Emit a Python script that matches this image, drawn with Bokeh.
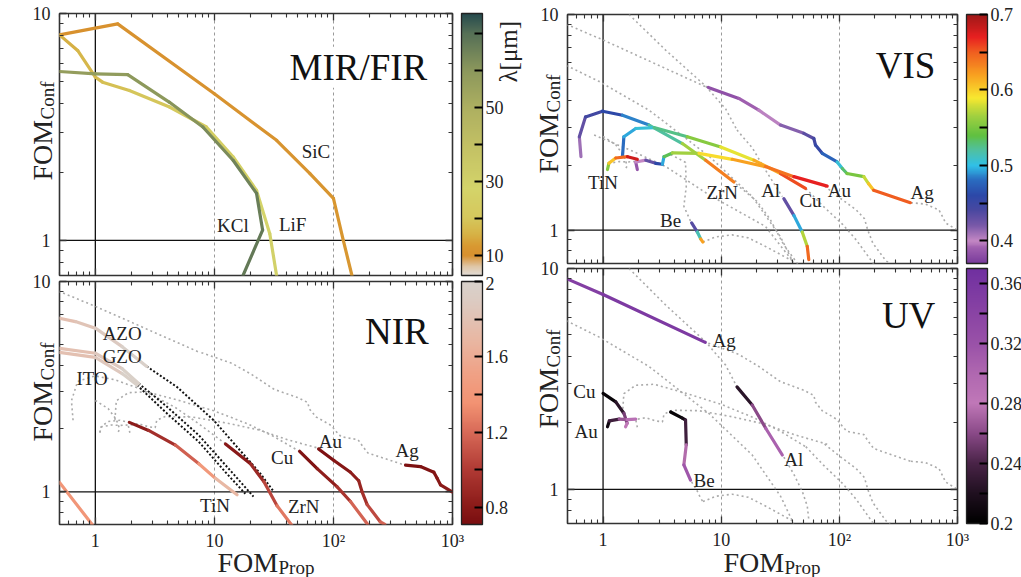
import numpy as np
from math import pi
from bokeh.plotting import figure
from bokeh.models import (ColumnDataSource, LinearColorMapper, ColorBar, FixedTicker, GridBox,
                          LogAxis, Span, Label, CustomJSTickFormatter, PrintfTickFormatter)
from bokeh.layouts import row, column
from bokeh.embed import file_html
from bokeh.resources import INLINE

FONT = "Liberation Serif, DejaVu Serif, serif"
TXT = "#222222"

# ---------------- axes ----------------
x_lo, x_hi = 0.5, 1000
y_lo, y_hi = 0.7, 10
x_major = [1, 10, 100, 1000]
x_minor = [0.5, 0.6, 0.7, 0.8, 0.9, 2, 3, 4, 5, 6, 7, 8, 9,
           20, 30, 40, 50, 60, 70, 80, 90, 200, 300, 400, 500, 600, 700, 800, 900]
y_major = [1, 10]
y_minor = [0.7, 0.8, 0.9, 2, 3, 4, 5, 6, 7, 8, 9]

# ---------------- MIR / FIR ----------------
sic_x = [0.5, 1.54, 10, 33.3, 63.5, 100, 121, 143]
sic_y = [8.05, 9.0, 4.43, 2.76, 1.97, 1.53, 1.0, 0.70]
sic_l = [10.3, 10.4, 10.6, 10.9, 11.2, 11.5, 11.8, 12.0]
lif_x = [0.5, 0.71, 1.0, 1.15, 1.93, 4.2, 8.57, 14.4, 22.6, 29.2, 33.3]
lif_y = [8.05, 6.87, 5.24, 4.98, 4.58, 3.87, 3.16, 2.33, 1.66, 1.07, 0.70]
lif_l = [15, 16, 17, 18, 19, 21, 23, 25, 27, 29, 30]
kcl_x = [0.5, 1.0, 1.87, 4.2, 8.0, 14.4, 22.6, 25.4, 17.4]
kcl_y = [5.55, 5.42, 5.38, 4.06, 3.16, 2.25, 1.61, 1.11, 0.70]
kcl_l = [57, 58, 59, 60, 62, 64, 66, 67, 68]

# ---------------- NIR ----------------
tin_n_x = [1.93, 2.8, 4.7, 7.4, 10.2, 15.5]
tin_n_y = [2.14, 1.96, 1.67, 1.36, 1.16, 0.97]
tin_n_l = [0.78, 0.85, 1.02, 1.3, 1.55, 1.85]
zrn_n_x = [12.4, 20.1, 26, 33.6, 45]
zrn_n_y = [1.69, 1.36, 1.12, 0.86, 0.69]
zrn_n_l = [0.75, 0.85, 0.95, 1.15, 1.35]
cu_n_x = [52, 73, 107, 139, 198]
cu_n_y = [1.56, 1.29, 1.06, 0.90, 0.69]
cu_n_l = [0.72, 0.78, 0.88, 1.05, 1.3]
au_n_x = [75, 101, 139, 163, 174, 192, 248, 270]
au_n_y = [1.6, 1.41, 1.24, 1.13, 1.0, 0.87, 0.72, 0.70]
au_n_l = [0.72, 0.76, 0.8, 0.85, 0.9, 0.98, 1.15, 1.2]
ag_n_x = [403, 538, 697, 743, 793, 994]
ag_n_y = [1.34, 1.32, 1.24, 1.16, 1.08, 1.0]
ag_n_l = [0.72, 0.74, 0.76, 0.78, 0.8, 0.82]
azo_x = [0.5, 0.68, 1.0, 1.68, 2.7]
azo_y = [6.69, 6.45, 6.0, 4.9, 3.95]
azo_l = [1.75, 1.8, 1.85, 1.93, 2.0]
azo_dx = [2.7, 4.86, 9.87, 16.5, 24.4, 31.6]
azo_dy = [3.95, 3.15, 2.19, 1.57, 1.22, 1.0]
gzo_x = [0.5, 1.0, 1.68, 2.31]
gzo_y = [4.81, 4.56, 3.85, 3.28]
gzo_l = [1.75, 1.82, 1.92, 2.0]
gzo_dx = [2.31, 3.87, 7.4, 12.4, 21.3]
gzo_dy = [3.28, 2.58, 1.86, 1.34, 0.95]
ito_x = [0.5, 1.0, 1.68, 2.24]
ito_y = [4.6, 4.36, 3.65, 3.22]
ito_l = [1.75, 1.82, 1.92, 2.0]
ito_dx = [2.24, 3.87, 7.4, 12.4, 18.2]
ito_dy = [3.22, 2.4, 1.73, 1.24, 0.98]
nir_low_x = [0.5, 0.94]
nir_low_y = [1.11, 0.70]
nir_low_l = [1.4, 1.4]

# ---------------- VIS ----------------
ag_v_x = [7.78, 14.1, 20.8, 31.8, 50, 60.8, 62.8, 71.6, 95.8, 106, 116, 161, 177, 195, 399]
ag_v_y = [4.59, 4.08, 3.6, 3.07, 2.81, 2.66, 2.48, 2.27, 2.07, 1.93, 1.83, 1.77, 1.64, 1.53, 1.34]
ag_v_l = [0.38, 0.385, 0.395, 0.41, 0.425, 0.44, 0.45, 0.46, 0.49, 0.52, 0.54, 0.56, 0.59, 0.62, 0.68]
au_v_x = [1.95, 1.89, 2.3, 2.79, 3.18, 3.28, 3.86, 6.48, 12.4, 23.7, 41.2, 78.9]
au_v_y = [1.91, 2.07, 2.11, 2.04, 2.02, 2.19, 2.28, 2.27, 2.13, 1.97, 1.77, 1.6]
au_v_l = [0.38, 0.39, 0.41, 0.45, 0.47, 0.52, 0.55, 0.58, 0.61, 0.63, 0.65, 0.69]
cu_v_x = [1.46, 1.5, 1.89, 2.7, 5.17, 9.9, 18.9, 31.8, 51.7]
cu_v_y = [2.2, 2.71, 2.96, 2.99, 2.71, 2.43, 2.11, 1.83, 1.56]
cu_v_l = [0.47, 0.49, 0.5, 0.51, 0.54, 0.57, 0.6, 0.63, 0.68]
zrn_v_x = [0.65, 0.63, 0.71, 0.99, 1.46, 2.45, 4.69, 7.38, 12.8]
zrn_v_y = [2.19, 2.71, 3.35, 3.56, 3.41, 3.07, 2.52, 2.11, 1.67]
zrn_v_l = [0.4, 0.42, 0.44, 0.45, 0.47, 0.5, 0.54, 0.59, 0.68]
tin_v_x = [1.09, 1.12, 1.28, 1.61, 1.95]
tin_v_y = [1.91, 2.04, 2.16, 2.19, 2.13]
tin_v_l = [0.53, 0.58, 0.63, 0.66, 0.7]
be_v_x = [5.62, 6.28, 6.7, 7.0]
be_v_y = [1.08, 0.98, 0.91, 0.88]
be_v_l = [0.4, 0.47, 0.56, 0.68]
al_v_x = [33.9, 41.2, 48.5, 53.5, 55.1]
al_v_y = [1.4, 1.17, 0.98, 0.84, 0.73]
al_v_l = [0.4, 0.46, 0.53, 0.61, 0.68]

# ---------------- UV ----------------
ag_u_x = [0.49, 1.0, 7.33]
ag_u_y = [9.0, 7.62, 4.63]
ag_u_l = [0.345, 0.35, 0.36]
al_u_x = [13.6, 18.3, 23.8, 32.9]
al_u_y = [2.91, 2.41, 1.89, 1.43]
al_u_l = [0.21, 0.24, 0.28, 0.33]
cu_u_x = [1.0, 1.28, 1.5, 1.6, 1.55]
cu_u_y = [2.72, 2.49, 2.21, 1.99, 1.92]
cu_u_l = [0.2, 0.21, 0.24, 0.27, 0.29]
au_u_x = [1.09, 1.13, 1.37, 1.6, 1.89]
au_u_y = [1.92, 2.04, 2.08, 2.07, 2.08]
au_u_l = [0.2, 0.22, 0.25, 0.28, 0.3]
be_u_x = [3.73, 4.69, 4.99, 5.06, 4.83, 5.5]
be_u_y = [2.24, 2.1, 2.06, 1.59, 1.29, 1.1]
be_u_l = [0.2, 0.21, 0.22, 0.25, 0.3, 0.33]

# ---------------- extra grey (out-of-band) curves ----------------
al_deep_x = [1.66, 3.4, 7.4, 10.9, 13.6]
al_deep_y = [10.0, 6.82, 4.65, 3.65, 2.91]
gx_x = [0.49, 0.92, 2.45, 7.9, 18.3, 31.8, 41]
gx_y = [5.8, 4.9, 3.6, 2.2, 1.43, 0.93, 0.7]
gy_x = [0.84, 1.7, 3.4, 8, 23.7, 40]
gy_y = [2.76, 2.35, 1.97, 1.45, 1.04, 0.72]
be_tail_x = [7.0, 9.0, 12.4, 17, 23.7, 40]
be_tail_y = [0.88, 0.93, 0.95, 0.92, 0.84, 0.72]

# ---------------- colour maps ----------------
mir_anchors = [(4.6, "#e2dcd6"), (7.0, "#dfc6a6"), (10, "#d8902e"), (12.5, "#d89a32"),
               (16, "#d6b448"), (20, "#d5c75c"), (28, "#d4d46a"), (40, "#c2c064"),
               (50, "#adaf60"), (60, "#8c985c"), (70, "#567056"), (75.4, "#264a4e")]
nir_anchors = [(0.71, "#7a0e10"), (0.8, "#8a1a18"), (1.0, "#b03a34"), (1.2, "#d86a58"),
               (1.35, "#f29272"), (1.5, "#f0a084"), (1.7, "#e8b8a4"), (1.9, "#dccbc2"), (2.0, "#d8d2cc")]
vis_anchors = [(0.37, "#7a3c9c"), (0.39, "#a060b0"), (0.40, "#c488c4"), (0.42, "#7858a8"),
               (0.44, "#4a48a0"), (0.46, "#2c48a8"), (0.48, "#2a6cc0"), (0.50, "#30c0e8"),
               (0.52, "#50c0a0"), (0.54, "#60c040"), (0.565, "#a0d040"), (0.59, "#f8e830"),
               (0.62, "#f8a020"), (0.65, "#f06020"), (0.67, "#e82020"), (0.70, "#a01818")]
uv_anchors = [(0.20, "#000000"), (0.22, "#201020"), (0.24, "#4a2448"), (0.26, "#8a4a88"),
              (0.28, "#c078b8"), (0.30, "#b068b0"), (0.32, "#9a52a8"), (0.34, "#8a44a4"),
              (0.37, "#7030a0")]


def make_palette(anchors, n=256):
    v = np.array([a[0] for a in anchors])
    c = np.array([[int(h[i:i + 2], 16) for i in (1, 3, 5)] for _, h in anchors], float)
    t = np.linspace(v[0], v[-1], n)
    rgb = np.stack([np.interp(t, v, c[:, k]) for k in range(3)], axis=1)
    return ["#%02x%02x%02x" % tuple(int(round(q)) for q in r) for r in rgb]


mir_map = LinearColorMapper(palette=make_palette(mir_anchors), low=4.6, high=75.4)
nir_map = LinearColorMapper(palette=make_palette(nir_anchors), low=0.71, high=2.0)
vis_map = LinearColorMapper(palette=make_palette(vis_anchors), low=0.37, high=0.70)
uv_map = LinearColorMapper(palette=make_palette(uv_anchors), low=0.20, high=0.37)


def xfmt():
    return CustomJSTickFormatter(code="const m={1:'1',10:'10',100:'10\u00b2',1000:'10\u00b3'}; return m[tick] || '';")


def yfmt():
    return CustomJSTickFormatter(code="const m={1:'1',10:'10'}; return m[tick] || '';")


def yfmt_low():
    # the top "10" of a lower panel is drawn on the overlay so it is not cut by the canvas edge
    return CustomJSTickFormatter(code="return tick == 1 ? '1' : '';")


def style_axis(ax, labels):
    ax.axis_line_color = None
    ax.major_tick_in = 7
    ax.major_tick_out = 0
    ax.minor_tick_in = 4
    ax.minor_tick_out = 0
    ax.major_tick_line_color = "#333333"
    ax.minor_tick_line_color = "#333333"
    ax.major_tick_line_width = 1.3
    ax.minor_tick_line_width = 1.1
    ax.major_label_text_font = FONT
    ax.major_label_text_color = TXT
    if labels:
        ax.major_label_text_font_size = "18px"
        ax.major_label_standoff = 6
    else:
        ax.major_label_text_font_size = "1px"
        ax.major_label_text_alpha = 0
        ax.major_label_standoff = 0


def make_panel(fw, fh, bl, br, bt, bb, xlabels, lower):
    p = figure(x_axis_type="log", y_axis_type="log", x_range=(x_lo, x_hi), y_range=(y_lo, y_hi),
               frame_width=fw, frame_height=fh, min_border_left=bl, min_border_right=br,
               min_border_top=bt, min_border_bottom=bb, toolbar_location=None,
               output_backend="svg", border_fill_color="white")
    p.outline_line_color = "#333333"
    p.outline_line_width = 1.6
    xa = p.xaxis[0]
    ya = p.yaxis[0]
    xa.ticker = FixedTicker(ticks=x_major, minor_ticks=x_minor)
    ya.ticker = FixedTicker(ticks=y_major, minor_ticks=y_minor)
    xa.formatter = xfmt()
    ya.formatter = yfmt_low() if lower else yfmt()
    style_axis(xa, xlabels)
    style_axis(ya, True)
    ya.major_label_standoff = 9
    top = LogAxis(ticker=FixedTicker(ticks=x_major, minor_ticks=x_minor))
    rgt = LogAxis(ticker=FixedTicker(ticks=y_major, minor_ticks=y_minor), formatter=yfmt())
    style_axis(top, False)
    style_axis(rgt, False)
    p.add_layout(top, "above")
    p.add_layout(rgt, "right")
    # invisible spacer axis: leaves the gap between the frame and the colour bar
    gap = LogAxis(ticker=FixedTicker(ticks=y_major), formatter=yfmt())
    gap.axis_line_color = None
    gap.major_tick_in = 0
    gap.major_tick_out = 9
    gap.minor_tick_in = 0
    gap.minor_tick_out = 0
    gap.major_tick_line_color = None
    gap.minor_tick_line_color = None
    gap.major_label_text_font_size = "1px"
    gap.major_label_text_alpha = 0
    gap.major_label_standoff = 0
    p.add_layout(gap, "right")
    p.xgrid.ticker = FixedTicker(ticks=[10, 100])
    p.xgrid.grid_line_color = "#9a9a9a"
    p.xgrid.grid_line_dash = "3 3"
    p.xgrid.grid_line_width = 1
    p.ygrid.grid_line_color = None
    p.add_layout(Span(location=1, dimension="height", line_color="#111111", line_width=1.3, level="underlay"))
    p.add_layout(Span(location=1, dimension="width", line_color="#111111", line_width=1.3, level="underlay"))
    return p


def add_curve(p, xs, ys, ls, mapper, width=3.2):
    lam = [(a + b) / 2 for a, b in zip(ls[:-1], ls[1:])]
    src = ColumnDataSource(dict(x0=xs[:-1], y0=ys[:-1], x1=xs[1:], y1=ys[1:], lam=lam))
    p.segment("x0", "y0", "x1", "y1", source=src,
              line_color={"field": "lam", "transform": mapper}, line_width=width, line_cap="round")


def add_grey(p, xs, ys):
    p.line(xs, ys, line_color="#ababab", line_dash="2 3", line_width=1.6)


def add_black_dots(p, xs, ys):
    p.line(xs, ys, line_color="#111111", line_dash="2 2", line_width=2)


def add_text(p, x, y, t, size="19px"):
    p.add_layout(Label(x=x, y=y, text=t, text_font=FONT, text_font_size=size, text_color=TXT,
                       text_align="center", text_baseline="middle"))


def add_title(p, x, y, t):
    p.add_layout(Label(x=x, y=y, text=t, text_font=FONT, text_font_size="37px", text_color="#111111",
                       text_align="right", text_baseline="alphabetic",
                       background_fill_color="white", background_fill_alpha=1.0))


def add_cbar(p, mapper, ticks, minor, fh, fmt=None):
    cb = ColorBar(color_mapper=mapper, ticker=FixedTicker(ticks=ticks, minor_ticks=minor),
                  formatter=fmt if fmt is not None else PrintfTickFormatter(format="%g"),
                  width=21, height=fh, padding=0, margin=0, label_standoff=3,
                  major_tick_in=8, major_tick_out=0, minor_tick_in=8, minor_tick_out=0,
                  major_tick_line_color="#000000", minor_tick_line_color="#000000",
                  major_tick_line_width=1.8, minor_tick_line_width=1.8,
                  bar_line_color="#222222", bar_line_width=1.3, border_line_color=None,
                  background_fill_alpha=0, major_label_text_font=FONT,
                  major_label_text_font_size="18px", major_label_text_color=TXT)
    p.add_layout(cb, "right")


# ---------------- panels ----------------
tl = make_panel(393, 262, 59, 68, 13, 3, False, False)
bl = make_panel(393, 243, 59, 68, 3, 53, True, True)
tr = make_panel(390, 249, 47, 64, 14, 2, False, False)
br = make_panel(390, 255, 47, 64, 3, 54, True, True)

# MIR/FIR
add_curve(tl, sic_x, sic_y, sic_l, mir_map)
add_curve(tl, lif_x, lif_y, lif_l, mir_map)
add_curve(tl, kcl_x, kcl_y, kcl_l, mir_map)
add_text(tl, 71.3, 2.47, "SiC")
add_text(tl, 14.3, 1.16, "KCl")
add_text(tl, 45.4, 1.18, "LiF")
add_title(tl, 614, 5.8, "MIR/FIR")
add_cbar(tl, mir_map, [10, 30, 50], [20, 40, 60, 70], 262)

# NIR
for gx_, gy_ in [(ag_u_x, ag_u_y), (ag_v_x, ag_v_y), (au_v_x, au_v_y), (cu_v_x, cu_v_y),
                 (zrn_v_x, zrn_v_y), (tin_v_x, tin_v_y), (cu_u_x, cu_u_y), (au_u_x, au_u_y)]:
    add_grey(bl, gx_, gy_)
add_black_dots(bl, azo_dx, azo_dy)
add_black_dots(bl, gzo_dx, gzo_dy)
add_black_dots(bl, ito_dx, ito_dy)
add_curve(bl, azo_x, azo_y, azo_l, nir_map)
add_curve(bl, gzo_x, gzo_y, gzo_l, nir_map)
add_curve(bl, ito_x, ito_y, ito_l, nir_map)
add_curve(bl, nir_low_x, nir_low_y, nir_low_l, nir_map)
add_curve(bl, tin_n_x, tin_n_y, tin_n_l, nir_map)
add_curve(bl, zrn_n_x, zrn_n_y, zrn_n_l, nir_map)
add_curve(bl, cu_n_x, cu_n_y, cu_n_l, nir_map)
add_curve(bl, au_n_x, au_n_y, au_n_l, nir_map)
add_curve(bl, ag_n_x, ag_n_y, ag_n_l, nir_map)
add_text(bl, 1.68, 5.67, "AZO")
add_text(bl, 1.68, 4.4, "GZO")
add_text(bl, 0.94, 3.46, "ITO")
add_text(bl, 10.1, 0.86, "TiN")
add_text(bl, 56.3, 0.85, "ZrN")
add_text(bl, 37, 1.45, "Cu")
add_text(bl, 94.4, 1.74, "Au")
add_text(bl, 416, 1.58, "Ag")
add_title(bl, 632, 5.78, "NIR")
add_cbar(bl, nir_map, [0.8, 1.2, 1.6, 2.0], [1.0, 1.4, 1.8], 243,
         CustomJSTickFormatter(code="return tick > 1.9 ? '' : (Math.round(tick * 10) / 10).toFixed(1);"))

# VIS
for gx_, gy_ in [(ag_u_x, ag_u_y), (al_deep_x, al_deep_y), (al_u_x, al_u_y), (gx_x, gx_y),
                 (cu_u_x, cu_u_y), (au_u_x, au_u_y), (be_u_x, be_u_y), (zrn_n_x, zrn_n_y),
                 (cu_n_x, cu_n_y), (au_n_x, au_n_y), (ag_n_x, ag_n_y), (be_tail_x, be_tail_y),
                 (gy_x, gy_y)]:
    add_grey(tr, gx_, gy_)
add_curve(tr, ag_v_x, ag_v_y, ag_v_l, vis_map)
add_curve(tr, zrn_v_x, zrn_v_y, zrn_v_l, vis_map)
add_curve(tr, cu_v_x, cu_v_y, cu_v_l, vis_map)
add_curve(tr, au_v_x, au_v_y, au_v_l, vis_map)
add_curve(tr, tin_v_x, tin_v_y, tin_v_l, vis_map)
add_curve(tr, be_v_x, be_v_y, be_v_l, vis_map)
add_curve(tr, al_v_x, al_v_y, al_v_l, vis_map)
add_text(tr, 1.0, 1.67, "TiN")
add_text(tr, 10.2, 1.49, "ZrN")
add_text(tr, 3.73, 1.11, "Be")
add_text(tr, 26.2, 1.52, "Al")
add_text(tr, 57, 1.37, "Cu")
add_text(tr, 100, 1.53, "Au")
add_text(tr, 501, 1.49, "Ag")
add_title(tr, 649, 5.82, "VIS")
add_cbar(tr, vis_map, [0.4, 0.5, 0.6, 0.7], [0.45, 0.55, 0.65], 249)

# UV
for gx_, gy_ in [(al_deep_x, al_deep_y), (gx_x, gx_y), (ag_v_x, ag_v_y), (au_v_x, au_v_y),
                 (cu_v_x, cu_v_y), (al_v_x, al_v_y), (be_v_x, be_v_y), (be_tail_x, be_tail_y),
                 (ag_n_x, ag_n_y), (au_n_x, au_n_y), (cu_n_x, cu_n_y)]:
    add_grey(br, gx_, gy_)
add_curve(br, ag_u_x, ag_u_y, ag_u_l, uv_map)
add_curve(br, al_u_x, al_u_y, al_u_l, uv_map)
add_curve(br, cu_u_x, cu_u_y, cu_u_l, uv_map)
add_curve(br, au_u_x, au_u_y, au_u_l, uv_map)
add_curve(br, be_u_x, be_u_y, be_u_l, uv_map)
add_text(br, 10.6, 4.74, "Ag")
add_text(br, 0.695, 2.77, "Cu")
add_text(br, 0.72, 1.82, "Au")
add_text(br, 7.16, 1.1, "Be")
add_text(br, 41.1, 1.36, "Al")
add_title(br, 649, 6.15, "UV")
add_cbar(br, uv_map, [0.2, 0.24, 0.28, 0.32, 0.36], [0.22, 0.26, 0.30, 0.34], 255)

panels = row(column(tl, bl), column(tr, br))

# ---------------- transparent overlay (page pixels) for texts outside the frames ----------------
ov = figure(width=1021, height=577, x_range=(0, 1021), y_range=(577, 0),
            x_axis_location=None, y_axis_location=None, min_border=0,
            toolbar_location=None, output_backend="svg",
            background_fill_alpha=0, border_fill_alpha=0, outline_line_color=None)
ov.grid.visible = False


def ov_text(x, y, t, size, angle=0.0, align="left", baseline="alphabetic"):
    ov.add_layout(Label(x=x, y=y, text=t, angle=angle, text_font=FONT, text_font_size=size,
                        text_color=TXT, text_align=align, text_baseline=baseline))


for (bx, by) in [(42, 180), (42, 441), (548, 173), (548, 428)]:
    ov_text(bx, by, "FOM", "28px", pi / 2)
    ov_text(bx + 5, by - 61, "Conf", "19px", pi / 2)
for (bx, by) in [(217, 562), (723, 562)]:
    ov_text(bx, by, "FOM", "28px")
    ov_text(bx + 61, by + 5, "Prop", "19px")
ov_text(508, 82, "\u03bb[\u03bcm]", "25px", pi / 2)
# top tick labels of the lower panels and of the NIR colour bar
ov_text(50, 281, "10", "18px", 0.0, "right", "middle")
ov_text(558, 268, "10", "18px", 0.0, "right", "middle")
ov_text(485, 283, "2", "18px", 0.0, "left", "middle")

layout = GridBox(children=[(panels, 0, 0), (ov, 0, 0)])
open("out.html", "w").write(file_html(layout, INLINE))
